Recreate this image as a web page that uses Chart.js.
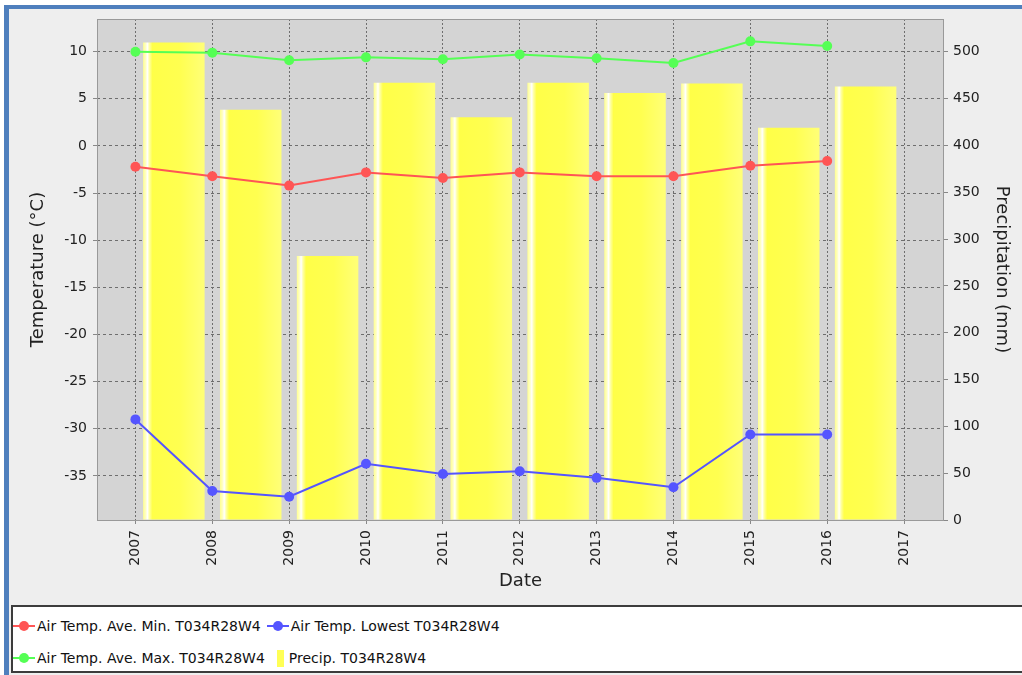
<!DOCTYPE html>
<html>
<head>
<meta charset="utf-8">
<script src="https://cdn.jsdelivr.net/npm/chart.js@4/dist/chart.umd.min.js"></script>
<style>
	body { margin: 0; background: #ffffff; width: 1022px; height: 675px; overflow: hidden; position: relative; font-family: "DejaVu Sans", sans-serif; }
	#frame { position: absolute; left: 4px; top: 5px; width: 1040px; height: 700px; background: #eeeeee; border-left: 5px solid #4f7fbd; border-top: 4px solid #4f7fbd; }
	#chart { position: absolute; left: 0; top: 0; }
	#legend { position: absolute; left: 11px; top: 605px; width: 1030px; height: 64px; background: #ffffff; border: 2px solid #3c3c3c; }
	#legend .rows { display: flex; flex-wrap: wrap; width: 530px; padding-top: 3px; }
	#legend .item { display: inline-flex; align-items: center; height: 32px; margin-right: 6px; font-size: 14px; color: #111; }
	#legend .mark { position: relative; width: 22px; height: 10px; margin-right: 2px; }
	#legend .mark .ln { position: absolute; left: 0; top: 4px; width: 22px; height: 2px; }
	#legend .mark .dot { position: absolute; left: 6px; top: 0; width: 10px; height: 10px; border-radius: 50%; }
	#legend .box { width: 7px; height: 17px; margin: 0 5px 0 6px; }
</style>
</head>
<body>
<div id="frame"></div>
<canvas id="chart" width="1022" height="600"></canvas>
<div id="legend"><div class="rows"></div></div>
<script>
// Data

let years = [2007, 2008, 2009, 2010, 2011, 2012, 2013, 2014, 2015, 2016];
let xTicks = [2007, 2008, 2009, 2010, 2011, 2012, 2013, 2014, 2015, 2016, 2017];
let tempTicks = [-35, -30, -25, -20, -15, -10, -5, 0, 5, 10];
let precipTicks = [0, 50, 100, 150, 200, 250, 300, 350, 400, 450, 500];

let aveMin = [-2.2, -3.2, -4.2, -2.8, -3.4, -2.8, -3.2, -3.2, -2.1, -1.6];
let lowest = [-29.0, -36.6, -37.2, -33.7, -34.8, -34.5, -35.2, -36.2, -30.6, -30.6];
let aveMax = [10.0, 9.9, 9.1, 9.4, 9.2, 9.7, 9.3, 8.8, 11.1, 10.6];
let precip = [510, 438, 282, 467, 430, 467, 456, 466, 419, 463];

let fontFamily = '"DejaVu Sans", sans-serif';

function points(values) {
	return values.map(function(v, i) { return {x: years[i], y: v}; });
}

// bars cover the whole year, centred mid-year
function yearBars(values) {
	return values.map(function(v, i) { return {x: years[i] + 0.5, y: v}; });
}

function barGradient(ctx) {
	let chart = ctx.chart;
	if (!chart.chartArea || !ctx.raw) return '#ffff55';
	let xs = chart.scales.x;
	let left = xs.getPixelForValue(ctx.raw.x - 0.4);
	let right = xs.getPixelForValue(ctx.raw.x + 0.4);
	let g = chart.ctx.createLinearGradient(left, 0, right, 0);
	g.addColorStop(0, '#ffff90');
	g.addColorStop(0.04, '#ffffc0');
	g.addColorStop(0.07, '#ffffff');
	g.addColorStop(0.1, '#ffffa8');
	g.addColorStop(0.15, '#ffff48');
	g.addColorStop(0.6, '#ffff50');
	g.addColorStop(1, '#ffff78');
	return g;
}

let plotBackground = {
	id: 'plotBackground',
	beforeDraw: function(chart) {
		let a = chart.chartArea;
		let c = chart.ctx;
		c.save();
		c.fillStyle = '#d4d4d4';
		c.fillRect(a.left, a.top, a.right - a.left, a.bottom - a.top);
		c.restore();
	},
	beforeDatasetsDraw: function(chart) {
		let a = chart.chartArea;
		let c = chart.ctx;
		c.save();
		c.strokeStyle = '#999999';
		c.lineWidth = 1;
		c.strokeRect(a.left + 0.5, a.top + 0.5, a.right - a.left - 1, a.bottom - a.top);
		c.restore();
	}
};

let chart = new Chart("chart", {
	type: "line",
	data: {
		datasets: [{
			label: "Air Temp. Ave. Min. T034R28W4",
			data: points(aveMin),
			borderColor: "#ff5555",
			backgroundColor: "#ff5555",
			yAxisID: 'y',
			order: 1
		},
		{
			label: "Air Temp. Lowest T034R28W4",
			data: points(lowest),
			borderColor: "#5555ff",
			backgroundColor: "#5555ff",
			yAxisID: 'y',
			order: 2
		},
		{
			label: "Air Temp. Ave. Max. T034R28W4",
			data: points(aveMax),
			borderColor: "#55ff55",
			backgroundColor: "#55ff55",
			yAxisID: 'y',
			order: 3
		},
		{
			type: "bar",
			label: "Precip. T034R28W4",
			data: yearBars(precip),
			backgroundColor: barGradient,
			borderWidth: 0,
			barPercentage: 0.8,
			categoryPercentage: 1,
			yAxisID: 'y1',
			order: 4
		}]
	},
	options: {
		responsive: false,
		animation: false,
		layout: { padding: { top: 19, left: 0, right: 0, bottom: 0 } },
		elements: {
			line: { borderWidth: 2, tension: 0 },
			point: { radius: 5, hoverRadius: 5, borderWidth: 0 }
		},
		plugins: {
			legend: { display: false },
			tooltip: { enabled: false }
		},
		scales: {
			x: {
				type: 'linear',
				min: 2006.5,
				max: 2017.52,
				offset: false,
				afterBuildTicks: function(s) { s.ticks = xTicks.map(function(v) { return {value: v}; }); },
				afterFit: function(s) { s.height = 80; },
				ticks: {
					autoSkip: false,
					minRotation: 90,
					maxRotation: 90,
					padding: 6,
					color: '#222222',
					font: { family: fontFamily, size: 14 },
					callback: function(v) { return String(v); }
				},
				grid: {
					offset: false,
					color: '#6e6e6e',
					borderDash: [2, 2],
					tickLength: 4,
					tickColor: '#888888',
					tickBorderDash: []
				},
				border: { display: false, dash: [2, 2] },
				title: {
					display: true,
					text: 'Date',
					color: '#222222',
					font: { family: fontFamily, size: 18 },
					padding: { top: 0, bottom: 8 }
				}
			},
			y: {
				position: 'left',
				min: -39.67,
				max: 13.47,
				afterBuildTicks: function(s) { s.ticks = tempTicks.map(function(v) { return {value: v}; }); },
				afterFit: function(s) { s.width = 97; },
				ticks: {
					padding: 6,
					color: '#222222',
					font: { family: fontFamily, size: 14 },
					callback: function(v) { return String(v); }
				},
				grid: {
					color: '#6e6e6e',
					borderDash: [3, 3],
					tickLength: 4,
					tickColor: '#888888',
					tickBorderDash: []
				},
				border: { display: false, dash: [3, 3] },
				title: {
					display: true,
					text: 'Temperature (°C)',
					color: '#222222',
					font: { family: fontFamily, size: 18 },
					padding: { top: 28, bottom: 0 }
				}
			},
			y1: {
				position: 'right',
				min: 0,
				max: 535,
				afterBuildTicks: function(s) { s.ticks = precipTicks.map(function(v) { return {value: v}; }); },
				afterFit: function(s) { s.width = 78; },
				ticks: {
					padding: 5,
					color: '#222222',
					font: { family: fontFamily, size: 14 },
					callback: function(v) { return String(v); }
				},
				grid: {
					drawOnChartArea: false,
					tickLength: 4,
					tickColor: '#888888'
				},
				border: { display: false },
				title: {
					display: true,
					text: 'Precipitation (mm)',
					color: '#222222',
					font: { family: fontFamily, size: 18 },
					padding: { top: 10, bottom: 0 }
				}
			}
		}
	},
	plugins: [plotBackground]
});

// Legend (html, built from the datasets)

let rows = document.querySelector('#legend .rows');
chart.data.datasets.forEach(function(ds) {
	let item = document.createElement('span');
	item.className = 'item';
	if (ds.type === 'bar') {
		let box = document.createElement('span');
		box.className = 'box';
		box.style.background = '#ffff55';
		item.appendChild(box);
	} else {
		let mark = document.createElement('span');
		mark.className = 'mark';
		mark.innerHTML = '<span class="ln" style="background:' + ds.borderColor + '"></span><span class="dot" style="background:' + ds.borderColor + '"></span>';
		item.appendChild(mark);
	}
	let txt = document.createElement('span');
	txt.textContent = ds.label;
	item.appendChild(txt);
	rows.appendChild(item);
});
</script>
</body>
</html>
